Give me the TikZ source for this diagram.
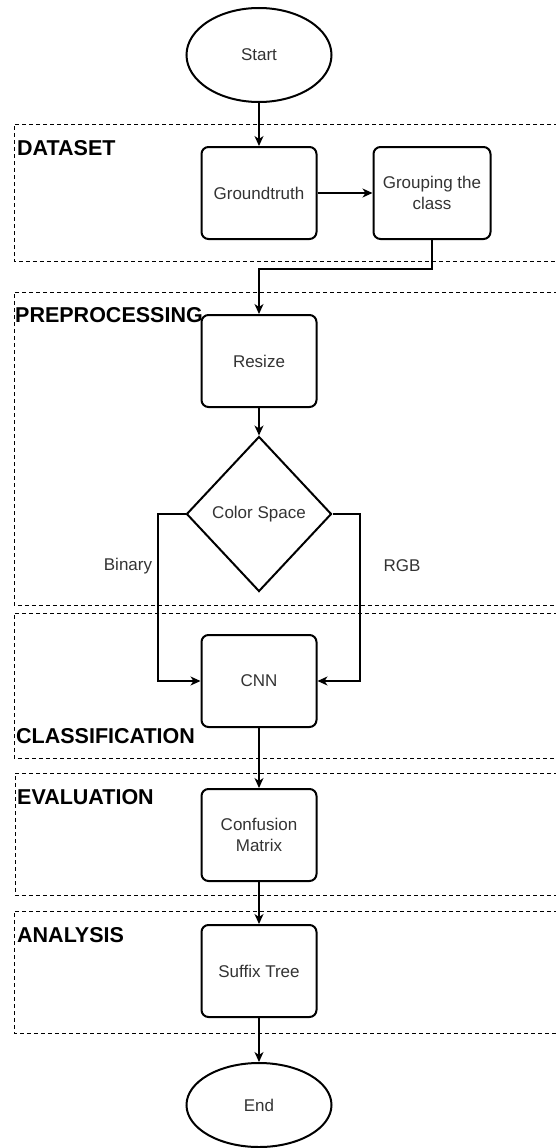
\documentclass[tikz,border=0pt]{standalone}
\usepackage{fontspec}
\setmainfont{Liberation Sans}
\usetikzlibrary{shapes.geometric,arrows.meta}
\begin{document}
\begin{tikzpicture}[x=1pt,y=-1pt,
  stepbox/.style={draw, line width=2pt, rounded corners=7pt, minimum width=115pt, minimum height=92pt,
    align=center, font=\fontsize{17}{21}\selectfont, text=black!80, inner sep=2pt},
  term/.style={ellipse, draw, line width=2pt, minimum width=145pt, minimum height=94pt,
    font=\fontsize{17}{21}\selectfont, text=black!80, inner sep=0pt},
  decision/.style={diamond, draw, line width=2pt, minimum width=145pt, minimum height=155pt,
    font=\fontsize{17}{21}\selectfont, text=black!80, inner sep=0pt},
  group/.style={draw, dash pattern=on 4pt off 3pt, line width=0.8pt},
  grplabel/.style={anchor=west, font=\fontsize{21.5}{25}\selectfont\bfseries, inner sep=0pt},
  edgelabel/.style={font=\fontsize{17}{21}\selectfont, text=black!80, inner sep=0pt},
  conn/.style={draw, line width=1.2pt, -{Stealth[length=10pt,width=9pt,inset=3pt]}}
]
\useasboundingbox (0,0) rectangle (555,1148);

% group frames (open to the right, running past the edge)
\draw[group] (565,124) -- (14,124) -- (14,261) -- (565,261);
\draw[group] (565,292) -- (14,292) -- (14,605) -- (565,605);
\draw[group] (565,613) -- (14,613) -- (14,758) -- (565,758);
\draw[group] (565,773) -- (15,773) -- (15,895) -- (565,895);
\draw[group] (565,911) -- (14,911) -- (14,1033) -- (565,1033);

\node[grplabel] (ldataset) at (17,148) {DATASET};
\node[grplabel] (lpre) at (15,315) {PREPROCESSING};
\node[grplabel] (lclass) at (16,736) {CLASSIFICATION};
\node[grplabel] (leval) at (17,797) {EVALUATION};
\node[grplabel] (lana) at (17,935) {ANALYSIS};

% nodes
\node[term] (start) at (259,55) {Start};
\node[stepbox] (gt) at (259,193) {Groundtruth};
\node[stepbox, minimum width=117pt] (grp) at (432,193) {Grouping the\\class};
\node[stepbox] (resize) at (259,361) {Resize};
\node[decision] (cs) at (259,514) {Color Space};
\node[stepbox] (cnn) at (259,681) {CNN};
\node[stepbox] (cm) at (259,835) {Confusion\\Matrix};
\node[stepbox] (st) at (259,971) {Suffix Tree};
\node[term, minimum height=84pt] (end) at (259,1105) {End};

\coordinate (bend1) at (259,269);
\coordinate (bl) at (158,514);
\coordinate (br) at (360,514);

% connectors
\draw[conn] (start.south) -- (gt.north);
\draw[conn] (gt.east) -- (grp.west);
\draw[conn] (grp.south) |- (bend1) -- (resize.north);
\draw[conn] (resize.south) -- (cs.north);
\draw[conn] (cs.west) -- (bl) |- (cnn.west);
\draw[conn] (cs.east) -- (br) |- (cnn.east);
\draw[conn] (cnn.south) -- (cm.north);
\draw[conn] (cm.south) -- (st.north);
\draw[conn] (st.south) -- (end.north);

\node[edgelabel] (lbin) at (128,566) {Binary};
\node[edgelabel] (lrgb) at (402,566) {RGB};
\end{tikzpicture}
\end{document}
